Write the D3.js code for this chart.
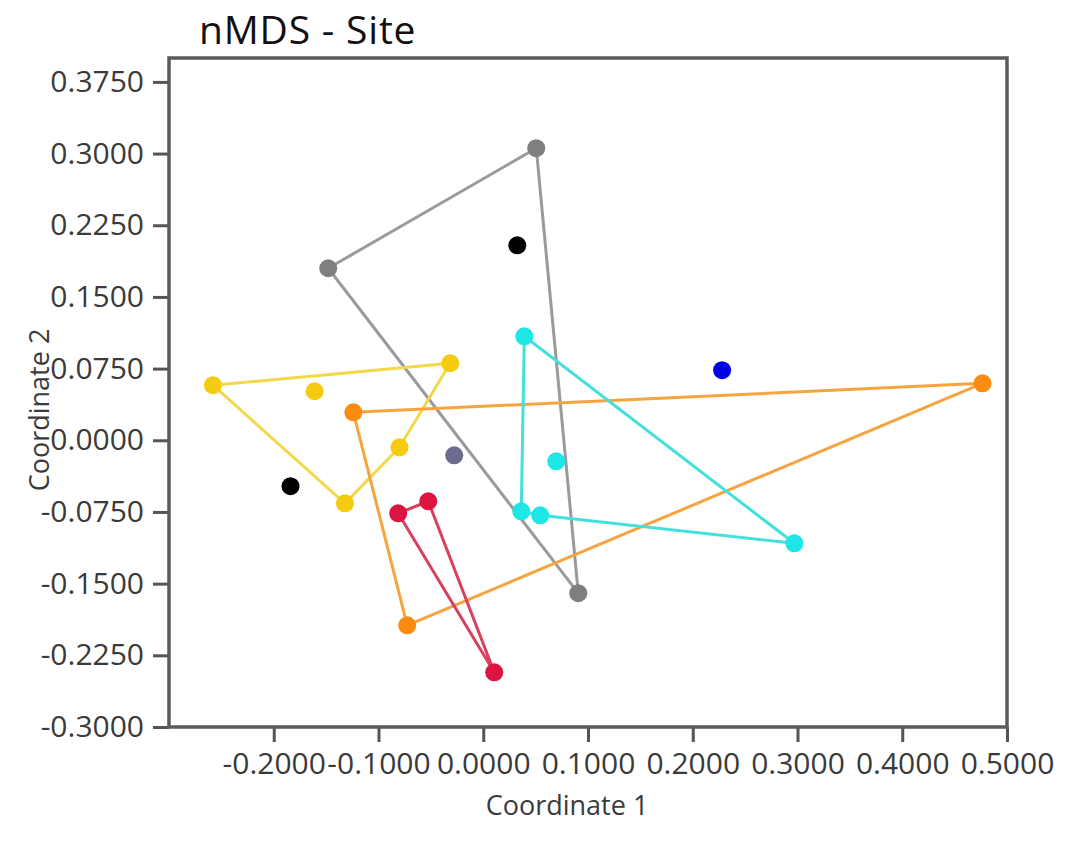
<!DOCTYPE html>
<html>
<head>
<meta charset="utf-8">
<script src="https://cdn.jsdelivr.net/npm/d3@7"></script>
<style>
  body { margin: 0; background: #fff; }
  svg { display: block; }
</style>
</head>
<body>
<div id="chart"></div>
<script>
// nMDS coordinates per site group (Coordinate 1, Coordinate 2)
var grayPts   = [[0.0506, 0.3056], [-0.148, 0.180], [0.0907, -0.160]];
var slatePts  = [[-0.0277, -0.0157]];
var blackPts  = [[0.0325, 0.204], [-0.184, -0.048]];
var bluePts   = [[0.228, 0.0733]];
var yellowPts = [[-0.258, 0.0576], [-0.161, 0.0513], [-0.0315, 0.0806], [-0.080, -0.0073], [-0.132, -0.066]];
var orangePts = [[-0.124, 0.0293], [0.4766, 0.0596], [-0.0726, -0.1936]];
var cyanPts   = [[0.0392, 0.1088], [0.0697, -0.022], [0.0363, -0.0743], [0.0544, -0.0785], [0.297, -0.1078]];
var redPts    = [[-0.0812, -0.0764], [-0.0525, -0.0638], [0.0105, -0.2428]];

var groupPts    = [grayPts, slatePts, blackPts, bluePts, yellowPts, orangePts, cyanPts, redPts];
var pointColors = ["#7f7f7f", "#6c6c8e", "#000000", "#0000e6", "#f5cb10", "#fb8c10", "#1ee6e6", "#dc1440"];
var lineColors  = ["#9a9a9a", "#8080a0", "#000000", "#0000e6", "#f2d84a", "#f7a440", "#45e0dc", "#d8405f"];

var xTicks = [-0.2, -0.1, 0.0, 0.1, 0.2, 0.3, 0.4, 0.5];
var yTicks = [-0.3, -0.225, -0.15, -0.075, 0.0, 0.075, 0.15, 0.225, 0.3, 0.375];

var width = 1086, height = 845;
var margin = { top: 58, right: 79, bottom: 118, left: 169 };

var svg = d3.select("#chart")
    .append("svg")
    .attr("width", width)
    .attr("height", height);

var x = d3.scaleLinear()
    .domain([-0.3, 0.5])
    .range([margin.left, width - margin.right]);

var y = d3.scaleLinear()
    .domain([-0.3, 0.4])
    .range([height - margin.bottom, margin.top]);

var fmt = function (d) { return d.toFixed(4); };
var tickFont = "'Open Sans', sans-serif";

// axes
var xAxis = svg.append("g")
    .attr("transform", "translate(0," + (height - margin.bottom) + ")")
    .call(d3.axisBottom(x).tickValues(xTicks).tickFormat(fmt).tickSize(15).tickPadding(11));

var yAxis = svg.append("g")
    .attr("transform", "translate(" + margin.left + ",0)")
    .call(d3.axisLeft(y).tickValues(yTicks).tickFormat(fmt).tickSize(16).tickPadding(9));

[xAxis, yAxis].forEach(function (g) {
    g.select(".domain").remove();
    g.selectAll(".tick line").attr("stroke", "#555").attr("stroke-width", 3);
    g.selectAll(".tick text")
        .attr("fill", "#3a3a3a")
        .style("font-family", tickFont)
        .style("font-size", "30px");
});

// frame
svg.append("rect")
    .attr("x", margin.left)
    .attr("y", margin.top)
    .attr("width", width - margin.left - margin.right)
    .attr("height", height - margin.top - margin.bottom)
    .attr("fill", "none")
    .attr("stroke", "#5a5a5a")
    .attr("stroke-width", 3.5);

// convex hulls for groups with 3+ points
var plot = svg.append("g");
groupPts.forEach(function (pts, i) {
    if (pts.length < 3) return;
    var hull = d3.polygonHull(pts.map(function (p) { return [x(p[0]), y(p[1])]; }));
    plot.append("path")
        .attr("d", "M" + hull.join("L") + "Z")
        .attr("fill", "none")
        .attr("stroke", lineColors[i])
        .attr("stroke-width", 3)
        .attr("stroke-linejoin", "round");
});

// points
groupPts.forEach(function (pts, i) {
    plot.selectAll(null)
        .data(pts)
        .enter()
        .append("circle")
        .attr("cx", function (d) { return x(d[0]); })
        .attr("cy", function (d) { return y(d[1]); })
        .attr("r", 9)
        .attr("fill", pointColors[i]);
});

// titles
svg.append("text")
    .attr("x", 199)
    .attr("y", 44)
    .style("font-family", "'Open Sans', sans-serif")
    .style("font-size", "39px")
    .style("letter-spacing", "0.8px")
    .attr("fill", "#111")
    .text("nMDS - Site");

svg.append("text")
    .attr("x", 567)
    .attr("y", 815)
    .attr("text-anchor", "middle")
    .style("font-family", tickFont)
    .style("font-size", "27px")
    .attr("fill", "#3a3a3a")
    .text("Coordinate 1");

svg.append("text")
    .attr("transform", "translate(49,410) rotate(-90)")
    .attr("text-anchor", "middle")
    .style("font-family", tickFont)
    .style("font-size", "27px")
    .attr("fill", "#3a3a3a")
    .text("Coordinate 2");
</script>
</body>
</html>
